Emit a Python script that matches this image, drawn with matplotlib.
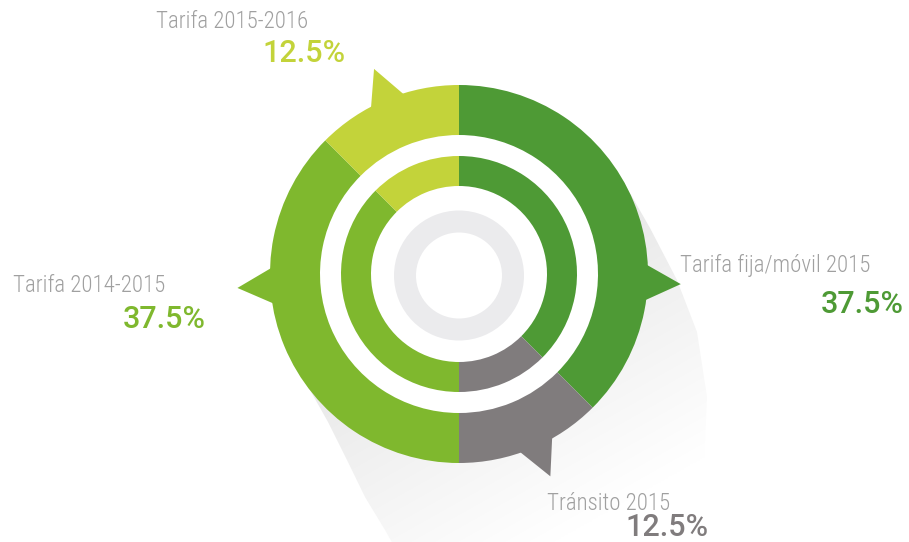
import numpy as np
import matplotlib
matplotlib.use("Agg")
import matplotlib.pyplot as plt
from matplotlib.patches import Polygon, Circle, Wedge

# ---------------- data ----------------
categories = ["Tarifa fija/móvil 2015", "Tránsito 2015", "Tarifa 2014-2015", "Tarifa 2015-2016"]
values = [37.5, 12.5, 37.5, 12.5]
value_labels = ["37.5%", "12.5%", "37.5%", "12.5%"]
colors = ["#4E9A35", "#807C7D", "#7FB82E", "#C3D33A"]

# ---------------- style ----------------
W, H = 909, 542
CX, CY = 459, 542 - 274
R_OUT, W_OUT = 189, 50
R_IN, W_IN = 118, 30
pointer_frac = [0.686, 0.46, 0.64, 0.5]   # where the pointer sits along each outer wedge
label_col = "#A0A0A0"
label_font = ["Roboto Condensed", "DejaVu Sans"]
value_font = ["Roboto", "DejaVu Sans"]

fig = plt.figure(figsize=(W / 100, H / 100), dpi=100)
ax = fig.add_axes([0, 0, 1, 1])
ax.axis("off")

# ---------------- shadow ----------------
def img(x, y):
    return (x, H - y)

right_side = [(623, 181), (650, 228), (677, 280), (697, 332), (707, 397), (704, 462), (692, 560)]
left_side = [(402, 560), (385, 530), (365, 497), (347, 460), (328, 422), (310, 390), (295, 367)]
poly_pts = [img(*p) for p in right_side + left_side] + [img(459, 274)]
shadow_poly = Polygon(poly_pts, closed=True, facecolor="none", edgecolor="none")
ax.add_patch(shadow_poly)
xs = np.linspace(280, 720, 300)
ys = np.linspace(170, 560, 300)
XX, YY = np.meshgrid(xs, ys)
t = (XX - 459) * 0.49 + (YY - 274) * 0.87
g = np.clip(0.905 + 0.00034 * t, 0.0, 1.0)
rgb = np.dstack([g, g, g])
im = ax.imshow(rgb, extent=(280, 720, H - 560, H - 170), origin="upper",
               interpolation="bilinear", zorder=0)
im.set_clip_path(shadow_poly)

# white disk so gaps between rings stay white
ax.add_patch(Circle((CX, CY), R_OUT - 1, facecolor="white", edgecolor="none", zorder=1))

# ---------------- rings ----------------
outer, _ = ax.pie(values, radius=R_OUT, center=(CX, CY), startangle=90, counterclock=False,
                  colors=colors, wedgeprops=dict(width=W_OUT, linewidth=0), frame=True)
inner, _ = ax.pie(values, radius=R_IN, center=(CX, CY), startangle=90, counterclock=False,
                  colors=colors, wedgeprops=dict(width=W_IN, linewidth=0), frame=True)
for w in outer + inner:
    w.set_zorder(3)

# pointers on the outer ring
for w, f, c in zip(outer, pointer_frac, colors):
    t1, t2 = w.theta1, w.theta2
    ang = t2 - f * (t2 - t1)
    half = 6.0
    pts = []
    for a, r in [(ang - half, R_OUT - 4), (ang, R_OUT + 33), (ang + half, R_OUT - 4)]:
        pts.append((CX + r * np.cos(np.radians(a)), CY + r * np.sin(np.radians(a))))
    ax.add_patch(Polygon(pts, closed=True, facecolor=c, edgecolor="none", zorder=3))

# centre grey ring
ax.add_patch(Wedge((CX, CY - 1.5), 65, 0, 360, width=22, facecolor="#EBEBED",
                   edgecolor="none", zorder=3))

# ---------------- labels ----------------
label_pos = [(870, 271.7), (670, 510), (165, 291.7), (308, 28.3)]
value_pos = [(904, 313.3), (708, 536.5), (206, 328), (345, 61.7)]
for cat, vl, c, lp, vp in zip(categories, value_labels, colors, label_pos, value_pos):
    ax.text(lp[0], H - lp[1], cat, ha="right", va="baseline", color=label_col,
            fontsize=16.5, family=label_font, fontweight=300, zorder=5)
    ax.text(vp[0], H - vp[1], vl, ha="right", va="baseline", color=c,
            fontsize=22, family=value_font, fontweight=500, zorder=5)

ax.set_xlim(0, W)
ax.set_ylim(0, H)
ax.set_aspect("equal")
ax.axis("off")
fig.savefig("out.png", dpi=100, facecolor="white")
